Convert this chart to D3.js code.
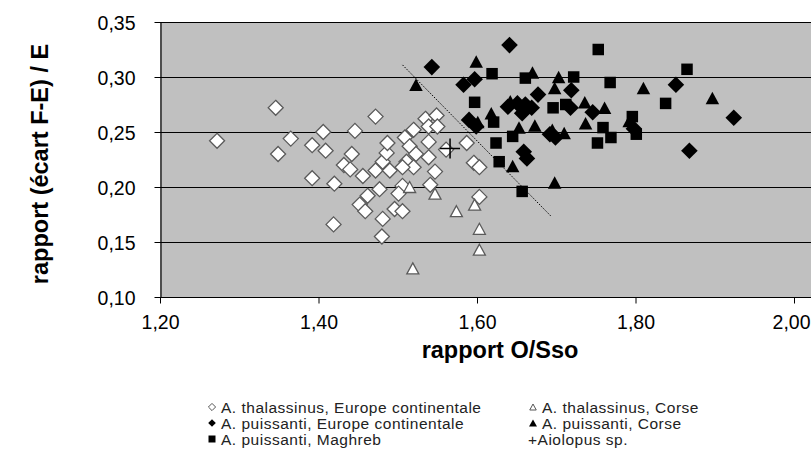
<!DOCTYPE html>
<html><head><meta charset="utf-8">
<script src="https://cdn.jsdelivr.net/npm/d3@7"></script>
<style>
html,body{margin:0;padding:0;background:#fff;}
svg{display:block;font-family:"Liberation Sans",Arial,sans-serif;}
</style></head>
<body><svg id="chart" width="811" height="470"></svg>
<script>
// ---- data ----
const xTicks = [1.2, 1.4, 1.6, 1.8, 2.0];
const yTicks = [0.10, 0.15, 0.20, 0.25, 0.30, 0.35];
const xTitle = "rapport O/Sso";
const yTitle = "rapport (écart F-E) / E";

const thalEuropeX = [1.272,1.346,1.365,1.349,1.406,1.392,1.409,1.392,1.420,1.419,1.432,1.472,1.446,1.442,1.440,1.456,1.477,1.462,1.452,1.459,1.481,1.480,1.481,1.472,1.490,1.486,1.487,1.509,1.520,1.535,1.549,1.539,1.550,1.539,1.515,1.523,1.539,1.511,1.520,1.506,1.547,1.506,1.541,1.501,1.496,1.506,1.561,1.587,1.596,1.603,1.603];
const thalEuropeY = [0.242,0.272,0.244,0.230,0.250,0.238,0.233,0.208,0.203,0.166,0.220,0.264,0.251,0.230,0.216,0.210,0.198,0.192,0.184,0.178,0.171,0.155,0.223,0.215,0.215,0.231,0.240,0.245,0.252,0.262,0.265,0.255,0.255,0.241,0.237,0.230,0.227,0.223,0.218,0.218,0.214,0.201,0.202,0.194,0.180,0.178,0.234,0.240,0.222,0.218,0.191];

const thalCorseX = [1.515,1.547,1.574,1.597,1.603,1.603,1.519];
const thalCorseY = [0.200,0.194,0.178,0.184,0.162,0.143,0.126];

const puisEuropeX = [1.543,1.641,1.583,1.597,1.590,1.599,1.639,1.651,1.661,1.669,1.657,1.677,1.659,1.663,1.692,1.699,1.719,1.718,1.746,1.798,1.851,1.868,1.924];
const puisEuropeY = [0.309,0.329,0.293,0.298,0.261,0.255,0.273,0.276,0.275,0.272,0.267,0.284,0.232,0.226,0.248,0.245,0.288,0.272,0.268,0.253,0.293,0.233,0.263];

const puisCorseX = [1.523,1.599,1.601,1.618,1.645,1.653,1.642,1.670,1.703,1.698,1.673,1.695,1.698,1.710,1.736,1.761,1.737,1.810,1.792,1.897];
const puisCorseY = [0.293,0.314,0.259,0.267,0.219,0.254,0.278,0.304,0.300,0.290,0.256,0.252,0.204,0.249,0.277,0.272,0.258,0.290,0.260,0.281];

const puisMaghrebX = [1.619,1.661,1.597,1.621,1.624,1.628,1.657,1.645,1.753,1.722,1.768,1.696,1.712,1.759,1.769,1.752,1.796,1.801,1.865,1.838];
const puisMaghrebY = [0.303,0.299,0.277,0.259,0.240,0.223,0.196,0.246,0.325,0.300,0.295,0.272,0.275,0.254,0.245,0.240,0.264,0.248,0.307,0.276];

const aiolopusX = [1.566];
const aiolopusY = [0.235];

const sepLineX = [1.506, 1.694];
const sepLineY = [0.311, 0.173];

const legendLabels = [
  "A. thalassinus, Europe continentale",
  "A. thalassinus, Corse",
  "A. puissanti, Europe continentale",
  "A. puissanti, Corse",
  "A. puissanti, Maghreb",
  "Aiolopus sp."
];

// ---- layout ----
const svg = d3.select("#chart");
const pLeft = 160, pBottom = 297, pTop = 22;
const x = d3.scaleLinear().domain([1.2, 2.0]).range([pLeft, 794]);
const y = d3.scaleLinear().domain([0.10, 0.35]).range([pBottom, pTop]);
const fmt = v => d3.format(".2f")(v).replace(".", ",");

// plot area
svg.append("rect").attr("x", pLeft).attr("y", y(0.35)).attr("width", 811 - pLeft + 5)
  .attr("height", pBottom - y(0.35)).attr("fill", "#c0c0c0");

// gridlines
svg.append("g").selectAll("line").data(yTicks.filter(d => d > 0.10)).join("line")
  .attr("x1", pLeft).attr("x2", 820).attr("y1", d => Math.round(y(d)) + 0.5).attr("y2", d => Math.round(y(d)) + 0.5)
  .attr("stroke", "#000").attr("stroke-width", 1.2);

// axes
const yAxis = d3.axisLeft(y).tickValues(yTicks).tickFormat(fmt).tickSize(6).tickSizeOuter(0);
const gy = svg.append("g").attr("transform", `translate(${pLeft + 0.5},0)`).call(yAxis);
const xAxis = d3.axisBottom(x).tickValues(xTicks).tickFormat(fmt).tickSize(6).tickSizeOuter(0);
const gx = svg.append("g").attr("transform", `translate(0,${Math.round(pBottom) + 0.5})`).call(xAxis);
gx.select(".domain").attr("d", `M${pLeft},0H820`);
[gx, gy].forEach(g => {
  g.selectAll(".domain").attr("stroke", "#000").attr("stroke-width", 1.2);
  g.selectAll(".tick line").attr("stroke", "#000");
  g.selectAll(".tick text").attr("font-family", "Liberation Sans, Arial, sans-serif")
    .attr("font-size", 19.5).attr("fill", "#000");
});
gy.selectAll(".tick text").attr("x", -25).attr("dy", "0.36em");
gx.selectAll(".tick text").attr("y", 18).attr("dy", "0.71em");
// keep the last label inside the window
gx.selectAll(".tick text").filter(d => d === 2.0).attr("dx", -3);

// titles
svg.append("text").attr("x", 500).attr("y", 358).attr("text-anchor", "middle")
  .attr("font-weight", "bold").attr("font-size", 23.5).text(xTitle);
svg.append("text").attr("transform", `translate(48,164) rotate(-90)`).attr("text-anchor", "middle")
  .attr("font-weight", "bold").attr("font-size", 23.5).text(yTitle);

// marker shapes
const diamond = r => `M0,${-r}L${r},0L0,${r}L${-r},0Z`;
const square = s => `M${-s/2},${-s/2}h${s}v${s}h${-s}Z`;
const tri = (w, h) => `M0,${-h/2}L${w/2},${h/2}L${-w/2},${h/2}Z`;
const plus = r => `M${-r},0H${r}M0,${-r}V${r}`;

const plot = svg.append("g");
function series(xs, ys, path, fill, stroke, sw) {
  plot.append("g").selectAll("path").data(xs.map((v, i) => [v, ys[i]])).join("path")
    .attr("transform", d => `translate(${x(d[0])},${y(d[1])})`)
    .attr("d", path).attr("fill", fill).attr("stroke", stroke).attr("stroke-width", sw);
}

// separator dotted line
svg.append("line").attr("x1", x(sepLineX[0])).attr("y1", y(sepLineY[0]))
  .attr("x2", x(sepLineX[1])).attr("y2", y(sepLineY[1]))
  .attr("stroke", "#000").attr("stroke-width", 1).attr("stroke-dasharray", "1.5,1.5");

series(thalEuropeX, thalEuropeY, diamond(7.5), "#fff", "#5a5a5a", 1.3);
series(thalCorseX, thalCorseY, tri(12, 11), "#fff", "#5a5a5a", 1.3);
series(puisEuropeX, puisEuropeY, diamond(8.3), "#000", "none", 0);
series(puisMaghrebX, puisMaghrebY, square(11.5), "#000", "none", 0);
series(puisCorseX, puisCorseY, tri(13.5, 12.5), "#000", "none", 0);
series(aiolopusX, aiolopusY, plus(10), "none", "#000", 1.5);

// legend
const leg = svg.append("g").attr("font-size", 15.5).attr("letter-spacing", 0.5).attr("fill", "#222");
const legItems = [
  {col: 0, row: 0, shape: diamond(3.6), fill: "#fff", stroke: "#555"},
  {col: 1, row: 0, shape: tri(6.5, 6), fill: "#fff", stroke: "#555"},
  {col: 0, row: 1, shape: diamond(3.8), fill: "#000", stroke: "none"},
  {col: 1, row: 1, shape: tri(8, 7), fill: "#000", stroke: "none"},
  {col: 0, row: 2, shape: square(7), fill: "#000", stroke: "none"},
  {col: 1, row: 2, shape: null}
];
const colX = [212, 533], rowY = [407, 423, 439];
legItems.forEach((it, i) => {
  const cx = colX[it.col], cy = rowY[it.row];
  if (it.shape) {
    leg.append("path").attr("transform", `translate(${cx},${cy})`).attr("d", it.shape)
      .attr("fill", it.fill).attr("stroke", it.stroke).attr("stroke-width", 1);
    leg.append("text").attr("x", cx + 9).attr("y", cy + 5.5).text(legendLabels[i]);
  } else {
    leg.append("text").attr("x", cx - 5).attr("y", cy + 5.5).text("+" + legendLabels[i]);
  }
});
</script></body></html>
